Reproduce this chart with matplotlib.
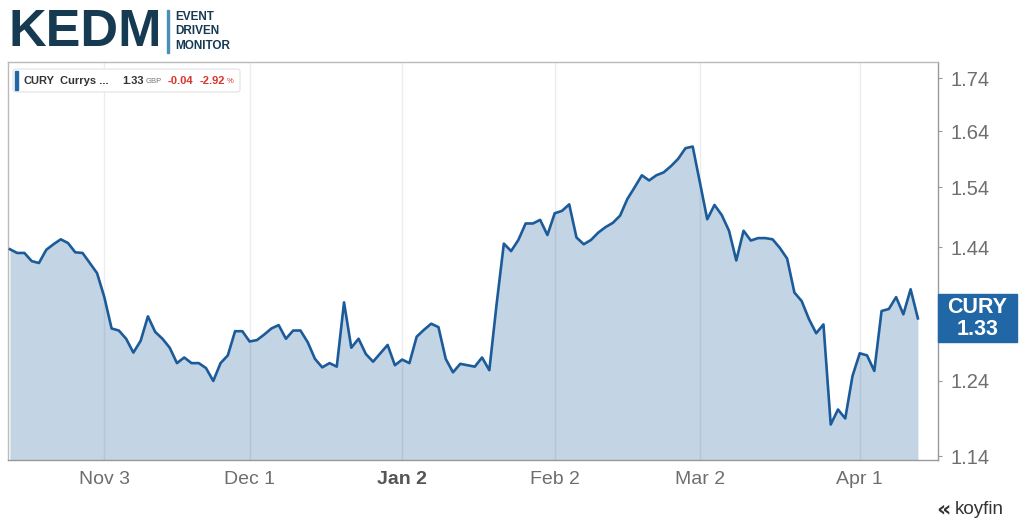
import matplotlib.pyplot as plt
import numpy as np
from matplotlib.patches import Rectangle, FancyBboxPatch
from matplotlib.ticker import FixedLocator, NullLocator, FixedFormatter

# CURY daily closes, one value per trading day (mid Oct -> mid Apr)
closes = [1.437, 1.431, 1.431, 1.418, 1.415, 1.436, 1.445, 1.453, 1.447, 1.432,
          1.431, 1.415, 1.399, 1.362, 1.315, 1.312, 1.300, 1.280, 1.297, 1.333,
          1.310, 1.300, 1.287, 1.265, 1.273, 1.265, 1.265, 1.258, 1.240, 1.265,
          1.276, 1.311, 1.311, 1.296, 1.298, 1.306, 1.315, 1.320, 1.300, 1.312,
          1.312, 1.295, 1.271, 1.259, 1.265, 1.260, 1.354, 1.287, 1.300, 1.278,
          1.267, 1.279, 1.291, 1.262, 1.270, 1.265, 1.303, 1.313, 1.322, 1.317,
          1.271, 1.252, 1.264, 1.262, 1.260, 1.273, 1.255, 1.351, 1.446, 1.434,
          1.452, 1.479, 1.479, 1.485, 1.460, 1.496, 1.500, 1.511, 1.456, 1.445,
          1.452, 1.464, 1.473, 1.480, 1.492, 1.520, 1.540, 1.561, 1.552, 1.561,
          1.566, 1.577, 1.590, 1.609, 1.612, 1.548, 1.486, 1.510, 1.493, 1.467,
          1.419, 1.467, 1.451, 1.455, 1.455, 1.453, 1.439, 1.422, 1.369, 1.356,
          1.329, 1.308, 1.321, 1.181, 1.201, 1.189, 1.247, 1.279, 1.276, 1.254,
          1.341, 1.344, 1.362, 1.336, 1.374, 1.330]

tick_days = [13, 33, 54, 75, 95, 117]   # trading-day index of each label
tick_labels = ["Nov 3", "Dec 1", "Jan 2", "Feb 2", "Mar 2", "Apr 1"]
price_ticks = [1.14, 1.24, 1.34, 1.44, 1.54, 1.64, 1.74]
price_labels = ["1.14", "1.24", "", "1.44", "1.54", "1.64", "1.74"]  # 1.34 sits under the price tag

ticker_name = "CURY"
last_price = "1.33"
change = "-0.04"
change_pct = "-2.92"

line_col = "#1c5b9a"
fill_col = "#c3d4e4"
grey = "#6e6e6e"

W, H = 1024, 529
fig = plt.figure(figsize=(W / 100, H / 100), dpi=100)
plt.rcParams['font.family'] = ['Liberation Sans', 'DejaVu Sans']

def fx(x):
    return x / W

def fy(y):
    return 1 - y / H

ax = fig.add_axes([fx(7.5), fy(460), fx(937.5) - fx(7.5), fy(62) - fy(460)])

x = np.arange(len(closes))
ax.set_yscale('log')
ax.set_xlim(-0.33, 127.7)
ax.set_ylim(1.135, 1.772)

ax.fill_between(x, closes, 1.0, color=fill_col, lw=0, zorder=1)
ax.plot(x, closes, color=line_col, lw=1.9, zorder=3, solid_joinstyle='round')

for d in tick_days:
    ax.axvline(d, color='k', alpha=0.07, lw=1, zorder=2)

ax.set_xticks(tick_days)
ax.set_xticklabels(tick_labels)
ax.tick_params(axis='x', length=0, pad=8, labelsize=14, labelcolor=grey)
for lab in ax.get_xticklabels():
    if lab.get_text() == "Jan 2":
        lab.set_fontweight('bold')
        lab.set_color('#555555')

ax.yaxis.tick_right()
ax.yaxis.set_major_locator(FixedLocator(price_ticks))
ax.yaxis.set_major_formatter(FixedFormatter(price_labels))
ax.yaxis.set_minor_locator(NullLocator())
ax.tick_params(axis='y', length=3, width=0.8, color='#999999', pad=6,
               labelsize=14.5, labelcolor=grey)

for s in ax.spines.values():
    s.set_color('#bbbbbb')
    s.set_linewidth(1)
ax.spines['bottom'].set_color('#999999')
ax.spines['right'].set_color('#999999')

# price tag on the right axis, centred on the last close
fig.canvas.draw()
ly = ax.transData.transform((0, closes[-1]))[1]
bx0, bx1 = 938, 1017
fig.add_artist(Rectangle((fx(bx0), ly / H - 24 / H), (bx1 - bx0) / W, 48 / H,
                         transform=fig.transFigure, color='#2166a5', zorder=5))
fig.text(fx((bx0 + bx1) / 2), ly / H, ticker_name + "\n" + last_price,
         ha='center', va='center', color='white', fontsize=15.5,
         fontweight='bold', linespacing=1.05, zorder=6)

# legend chip top-left
fig.add_artist(FancyBboxPatch((fx(13), fy(92)), fx(240) - fx(13), fy(69) - fy(92),
                              boxstyle='round,pad=0,rounding_size=0.004',
                              transform=fig.transFigure, fc='white',
                              ec='#e2e2e2', lw=0.8, zorder=5))
fig.add_artist(Rectangle((fx(15), fy(90)), 3 / W, 19 / H, transform=fig.transFigure,
                         color='#2166a5', zorder=6))
ty = fy(81)
fig.text(fx(24), ty, ticker_name, fontsize=8, fontweight='bold', color='#333333',
         va='center', zorder=7)
fig.text(fx(60), ty, "Currys ...", fontsize=8, fontweight='bold', color='#333333',
         va='center', zorder=7)
fig.text(fx(122), ty, last_price, fontsize=8, fontweight='bold', color='#333333',
         va='center', zorder=7)
fig.text(fx(146), ty - 0.001, "GBP", fontsize=5.5, color='#777777', va='center', zorder=7)
fig.text(fx(168), ty, change, fontsize=8, fontweight='bold', color='#d9342b',
         va='center', zorder=7)
fig.text(fx(200), ty, change_pct, fontsize=8, fontweight='bold', color='#d9342b',
         va='center', zorder=7)
fig.text(fx(227), ty - 0.001, "%", fontsize=5.5, color='#d9342b', va='center', zorder=7)

# KEDM logo
navy = '#163a52'
fig.text(fx(9), fy(33), "KEDM", fontsize=37.5, fontweight='bold', color=navy,
         va='center', ha='left')
fig.add_artist(Rectangle((fx(167), fy(53)), 1.5 / W, 43 / H, transform=fig.transFigure,
                         color='#4a8fb5'))
for i, word in enumerate(["EVENT", "DRIVEN", "MONITOR"]):
    fig.text(fx(175), fy(17 + 14.5 * i), word, fontsize=8.5, fontweight='bold',
             color=navy, va='center', ha='left')

# koyfin mark
fig.text(fx(936), fy(509), "\u00ab", fontsize=16, fontweight='bold', color='#333333',
         va='center', ha='left', family='DejaVu Sans')
fig.text(fx(955), fy(510), "koyfin", fontsize=13.5, color='#333333', va='center', ha='left')

fig.savefig("out.png", dpi=100)
